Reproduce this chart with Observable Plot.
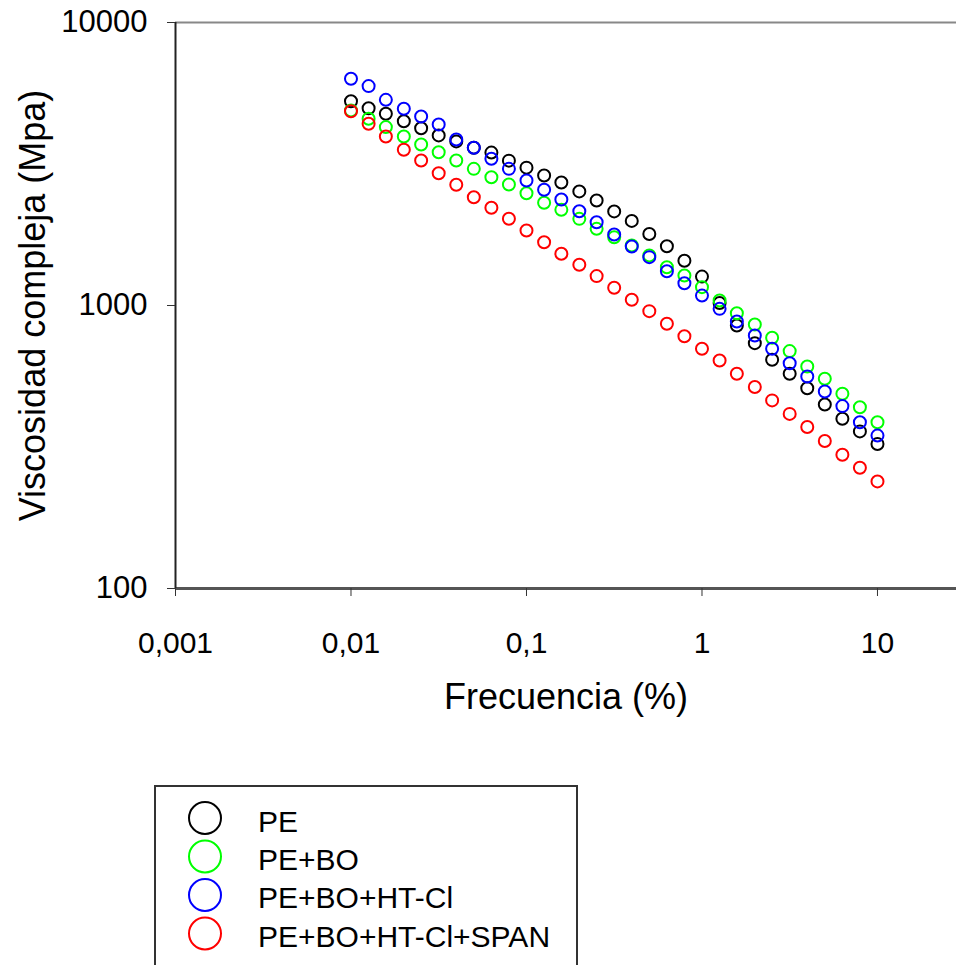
<!DOCTYPE html>
<html>
<head>
<meta charset="utf-8">
<script src="https://cdn.jsdelivr.net/npm/d3@7"></script>
<script src="https://cdn.jsdelivr.net/npm/@observablehq/plot@0.6"></script>
<style>
  html, body { margin: 0; padding: 0; background: #fff; }
  #wrap { position: relative; width: 956px; height: 965px; overflow: hidden; }
  #chart { position: absolute; left: 0; top: 0; }
  #legend { position: absolute; left: 154px; top: 785px; width: 424px; height: 200px;
            border: 2px solid #333; box-sizing: border-box; background: #fff; }
</style>
</head>
<body>
<div id="wrap">
  <div id="chart"></div>
  <div id="legend"></div>
</div>
<script>
// ---- data ----
const freq = [0.01, 0.0126, 0.0158, 0.02, 0.0251, 0.0316, 0.0398, 0.0501, 0.0631, 0.0794,
              0.1, 0.126, 0.158, 0.2, 0.251, 0.316, 0.398, 0.501, 0.631, 0.794,
              1, 1.26, 1.58, 2, 2.51, 3.16, 3.98, 5.01, 6.31, 7.94, 10];
const pe = [5270, 4980, 4760, 4480, 4230, 3990, 3800, 3610, 3470, 3250,
            3070, 2880, 2720, 2530, 2350, 2150, 1990, 1790, 1620, 1440,
            1265, 1020, 850, 736, 643, 574, 510, 447, 398, 359, 324];
const peBo = [4890, 4570, 4270, 3955, 3706, 3480, 3252, 3040, 2840, 2677,
              2494, 2306, 2178, 2024, 1866, 1742, 1630, 1503, 1365, 1276,
              1161, 1042, 939, 857, 769, 690, 609, 551, 488, 437, 387];
const peBoHt = [6324, 5960, 5330, 4955, 4655, 4362, 3860, 3609, 3300, 3040,
                2765, 2564, 2370, 2154, 1968, 1782, 1616, 1482, 1322, 1199,
                1084, 973, 878, 783, 703, 625, 561, 497, 441, 387, 347];
const peBoHtSpan = [4860, 4385, 3955, 3549, 3252, 2933, 2672, 2414, 2215, 2025,
                    1841, 1673, 1523, 1393, 1270, 1155, 1048, 955, 862, 779,
                    703, 639, 574, 515, 462, 414, 372, 332, 297, 267, 239];

const seriesNames = ["PE", "PE+BO", "PE+BO+HT-Cl", "PE+BO+HT-Cl+SPAN"];
const seriesColors = ["#000000", "#00ff00", "#0000ff", "#ff0000"];
const seriesValues = [pe, peBo, peBoHt, peBoHtSpan];

const xTicks = [0.001, 0.01, 0.1, 1, 10];
const xTickLabels = ["0,001", "0,01", "0,1", "1", "10"];
const yTicks = [100, 1000, 10000];
const yTickLabels = ["100", "1000", "10000"];
const xTitle = "Frecuencia (%)";
const yTitle = "Viscosidad compleja (Mpa)";

// ---- table ----
const rows = [];
seriesNames.forEach((name, s) => {
  freq.forEach((f, i) => rows.push({serie: name, f, v: seriesValues[s][i]}));
});
const xLab = new Map(xTicks.map((t, i) => [t, xTickLabels[i]]));
const yLab = new Map(yTicks.map((t, i) => [t, yTickLabels[i]]));

const font = "'Liberation Sans', Arial, sans-serif";

const chart = Plot.plot({
  width: 956,
  height: 780,
  marginLeft: 175,
  marginRight: 0,
  marginTop: 22,
  marginBottom: 192,
  style: {fontFamily: font, background: "#fff", color: "#000"},
  x: {type: "log", domain: [0.001, 28.2]},
  y: {type: "log", domain: [100, 10000]},
  color: {domain: seriesNames, range: seriesColors},
  marks: [
    Plot.ruleY([10000], {stroke: "#888", strokeWidth: 2}),
    Plot.ruleY([100], {stroke: "#555", strokeWidth: 3}),
    Plot.ruleX([0.001], {stroke: "#222", strokeWidth: 2}),
    Plot.axisX({ticks: xTicks, tickFormat: d => xLab.get(d), tickSize: 8, tickPadding: 35,
                fontSize: 30, stroke: "#333", label: null}),
    Plot.axisY({ticks: yTicks, tickFormat: d => yLab.get(d), tickSize: 8, tickPadding: 20,
                fontSize: 31, stroke: "#333", label: null}),
    Plot.text([xTitle], {frameAnchor: "bottom", dy: 108.5, fontSize: 36,
                         textAnchor: "middle", lineAnchor: "middle", fill: "#000"}),
    Plot.text([yTitle], {frameAnchor: "left", dx: -142.5, rotate: -90, fontSize: 36,
                         textAnchor: "middle", lineAnchor: "middle", fill: "#000"}),
    Plot.dot(rows, {x: "f", y: "v", stroke: "serie", r: 6, strokeWidth: 2, fill: "none"})
  ]
});
document.getElementById("chart").appendChild(chart);

// ---- legend (below the plot) ----
const lg = d3.select("#legend").append("svg")
  .attr("width", 420).attr("height", 196)
  .style("font-family", font);
seriesNames.forEach((name, i) => {
  lg.append("circle")
    .attr("cx", 49).attr("cy", 31 + i * 38.5).attr("r", 16)
    .attr("fill", "none").attr("stroke", seriesColors[i]).attr("stroke-width", 2);
  lg.append("text")
    .attr("x", 102).attr("y", 34 + i * 38.3).attr("dy", "0.36em")
    .attr("font-size", 30).attr("fill", "#000")
    .text(name);
});
</script>
</body>
</html>
